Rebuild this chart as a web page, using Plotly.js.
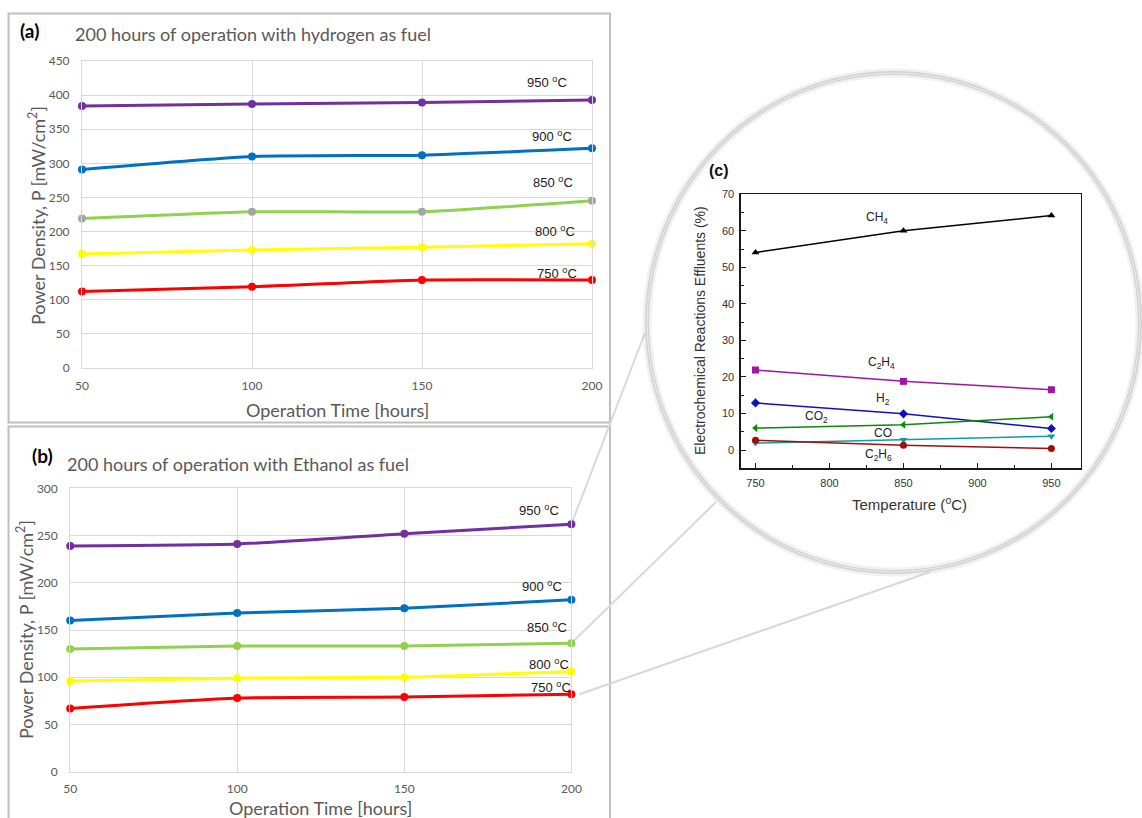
<!DOCTYPE html>
<html>
<head>
<meta charset="utf-8">
<script src="https://cdn.plot.ly/plotly-3.0.1.min.js"></script>
<style>
  html, body { margin: 0; padding: 0; background: #ffffff; }
  #fig { width: 1142px; height: 818px; }
</style>
</head>
<body>
<div id="fig"></div>
<script>
// ---- data -------------------------------------------------------------
const hours = [50, 100, 150, 200];
const tempNames = ['750', '800', '850', '900', '950'];

// (a) hydrogen fuel, power density [mW/cm2]
const h2_750 = [112, 119, 129, 129];
const h2_800 = [167, 173, 177, 182];
const h2_850 = [219, 229, 229, 245];
const h2_900 = [291, 310, 312, 322];
const h2_950 = [384, 387, 389, 393];

// (b) ethanol fuel, power density [mW/cm2]
const et_750 = [67, 78, 79, 82];
const et_800 = [96, 99, 100, 106];
const et_850 = [130, 133, 133, 136];
const et_900 = [160, 168, 173, 182];
const et_950 = [239, 241, 252, 262];

// (c) effluent composition vs temperature [%]
const temps = [750, 850, 950];
const gasNames = ['CH<sub>4</sub>', 'C<sub>2</sub>H<sub>4</sub>', 'H<sub>2</sub>', 'CO<sub>2</sub>', 'CO', 'C<sub>2</sub>H<sub>6</sub>'];
const ch4  = [54.1, 60.0, 64.2];
const c2h4 = [21.9, 18.8, 16.5];
const h2   = [12.9, 9.9, 5.9];
const co2  = [6.0, 6.9, 9.1];
const co   = [1.9, 2.8, 3.8];
const c2h6 = [2.7, 1.3, 0.4];

// ---- page geometry helpers (pixel -> paper) ---------------------------
const W = 1142, H = 818;
const px = v => v / W;
const py = v => 1 - v / H;

const EXCEL = 'Lato, "Open Sans", sans-serif';
const ARIAL = '"Liberation Sans", Arial, sans-serif';

const tempColors = ['#FF0000', '#FFFF00', '#92D050', '#0070C0', '#7030A0'];
const h2MarkerColors = ['#FF0000', '#FFFF00', '#A5A5A5', '#0070C0', '#7030A0'];

function runLine(y, i, xa, ya, markerColor) {
  return {
    x: hours, y: y, xaxis: xa, yaxis: ya, type: 'scatter', mode: 'lines+markers',
    name: tempNames[i] + ' °C',
    line: { color: tempColors[i], width: 3, shape: 'spline', smoothing: 0.5 },
    marker: { color: markerColor, size: 8 },
    cliponaxis: false, hoverinfo: 'x+y+name'
  };
}

const h2Series = [h2_750, h2_800, h2_850, h2_900, h2_950];
const etSeries = [et_750, et_800, et_850, et_900, et_950];

const traces = [];
h2Series.forEach((s, i) => traces.push(runLine(s, i, 'x', 'y', h2MarkerColors[i])));
etSeries.forEach((s, i) => traces.push(runLine(s, i, 'x2', 'y2', tempColors[i])));

const gasSeries = [ch4, c2h4, h2, co2, co, c2h6];
const gasColors = ['#000000', '#A0169F', '#1010C0', '#0A8A0A', '#139C9C', '#A00F0F'];
const gasSymbols = ['triangle-up', 'square', 'diamond', 'triangle-left', 'triangle-down', 'circle'];
gasSeries.forEach((s, i) => traces.push({
  x: temps, y: s, xaxis: 'x3', yaxis: 'y3', type: 'scatter', mode: 'lines+markers',
  name: gasNames[i],
  line: { color: gasColors[i], width: 1.5 },
  marker: { color: gasColors[i], symbol: gasSymbols[i], size: 7 },
  cliponaxis: false
}));

// ---- axes -------------------------------------------------------------
function excelAxis(extra) {
  return Object.assign({
    showgrid: true, gridcolor: '#D9D9D9', gridwidth: 1,
    showline: true, linecolor: '#D9D9D9', linewidth: 1, mirror: true,
    zeroline: false, ticks: '', fixedrange: true,
    tickfont: { family: EXCEL, size: 12, color: '#595959' }
  }, extra);
}

function originAxis(extra) {
  return Object.assign({
    showgrid: false, zeroline: false,
    showline: true, linecolor: '#1a1a1a', linewidth: 1.3, mirror: true,
    ticks: 'inside', ticklen: 5, tickwidth: 1, tickcolor: '#1a1a1a',
    tickfont: { family: ARIAL, size: 11, color: '#333333' },
    fixedrange: true
  }, extra);
}

// plot areas (pixels)
const A = { l: 82, r: 592, t: 61, b: 368 };
const B = { l: 70.2, r: 571.4, t: 488.3, b: 771.7 };
const C = { l: 740.7, r: 1081, t: 194.3, b: 468.3 };

const layout = {
  width: W, height: H,
  margin: { l: 0, r: 0, t: 0, b: 0 },
  paper_bgcolor: '#ffffff', plot_bgcolor: 'rgba(0,0,0,0)',
  showlegend: false,
  xaxis: excelAxis({ domain: [px(A.l), px(A.r)], anchor: 'y', range: [50, 200], tickvals: hours, ticklabelstandoff: 7 }),
  yaxis: excelAxis({ domain: [py(A.b), py(A.t)], anchor: 'x', range: [0, 450], dtick: 50, tick0: 0, ticklabelstandoff: 9 }),
  xaxis2: excelAxis({ domain: [px(B.l), px(B.r)], anchor: 'y2', range: [50, 200], tickvals: hours, ticklabelstandoff: 6 }),
  yaxis2: excelAxis({ domain: [py(B.b), py(B.t)], anchor: 'x2', range: [0, 300], dtick: 50, tick0: 0, ticklabelstandoff: 9 }),
  xaxis3: originAxis({ domain: [px(C.l), px(C.r)], anchor: 'y3', range: [740, 970], dtick: 50, tick0: 750,
    minor: { ticks: 'inside', ticklen: 3, dtick: 25, tickcolor: '#1a1a1a' }, ticklabelstandoff: 4 }),
  yaxis3: originAxis({ domain: [py(C.b), py(C.t)], anchor: 'x3', range: [-5, 70], dtick: 10, tick0: 0,
    minor: { ticks: 'inside', ticklen: 3, dtick: 5, tickcolor: '#1a1a1a' }, ticklabelstandoff: 3 }),
  shapes: [],
  annotations: []
};

// ---- frames, magnifier ring and connector lines ------------------------
const frameLine = { color: '#BFBFBF', width: 2 };
layout.shapes.push({ type: 'rect', xref: 'paper', yref: 'paper', x0: px(8.5), x1: px(610), y0: py(422.5), y1: py(13.5), line: frameLine, layer: 'below' });
layout.shapes.push({ type: 'rect', xref: 'paper', yref: 'paper', x0: px(8.5), x1: px(610), y0: py(840), y1: py(426.5), line: frameLine, layer: 'below' });

// end point of an ethanol curve (b) in paper coordinates
function etEnd(series) {
  const xv = hours[hours.length - 1], yv = series[series.length - 1];
  const xp = B.l + (xv - 50) / 150 * (B.r - B.l);
  const yp = B.b - yv / 300 * (B.b - B.t);
  return [px(xp), py(yp)];
}
const connector = { color: '#D9D9D9', width: 2 };
[[et_950, 645, 333], [et_850, 716, 502], [et_750, 930, 572]].forEach(([s, ex, ey], k) => {
  const [x0, y0] = etEnd(s);
  const off = k === 2 ? px(8) : 0;
  layout.shapes.push({ type: 'line', xref: 'paper', yref: 'paper', x0: x0 + off, y0: y0, x1: px(ex), y1: py(ey), line: connector, layer: 'below' });
});

const ring = { x0: px(647), x1: px(1140), y0: py(572), y1: py(73) };
layout.shapes.push(Object.assign({ type: 'circle', xref: 'paper', yref: 'paper', line: { color: 'rgba(200,200,200,0.25)', width: 9 } }, ring));
layout.shapes.push(Object.assign({ type: 'circle', xref: 'paper', yref: 'paper', line: { color: '#D3D3D3', width: 4 } }, ring));
layout.shapes.push(Object.assign({ type: 'circle', xref: 'paper', yref: 'paper', line: { color: '#ECECEC', width: 1 } }, ring));

// ---- text ---------------------------------------------------------------
function paperText(text, x, y, font, extra) {
  return Object.assign({ xref: 'paper', yref: 'paper', x: px(x), y: py(y), text: text, showarrow: false,
    xanchor: 'center', yanchor: 'middle', font: font }, extra || {});
}
const titleFont = { family: EXCEL, size: 18, color: '#595959' };
const axisFont = { family: EXCEL, size: 18, color: '#595959' };
const tagFont = { family: EXCEL, size: 19, color: '#000000', weight: 'bold' };

layout.annotations.push(paperText('<b>(a)</b>', 29, 30, tagFont));
layout.annotations.push(paperText('200 hours of operation with hydrogen as fuel', 73, 34, titleFont, { xanchor: 'left' }));
layout.annotations.push(paperText('Operation Time [hours]', 337, 410, axisFont));
layout.annotations.push(paperText('Power Density, P [mW/cm<sup>2</sup>]', 37, 216, axisFont, { textangle: -90 }));

layout.annotations.push(paperText('<b>(b)</b>', 42, 455, tagFont));
layout.annotations.push(paperText('200 hours of operation with Ethanol as fuel', 65, 464, titleFont, { xanchor: 'left' }));
layout.annotations.push(paperText('Operation Time [hours]', 320, 808, axisFont));
layout.annotations.push(paperText('Power Density, P [mW/cm<sup>2</sup>]', 25, 630, axisFont, { textangle: -90 }));

layout.annotations.push(paperText('<b>(c)</b>', 719, 170, { family: ARIAL, size: 16, color: '#111111' }));
layout.annotations.push(paperText('Temperature (<sup>o</sup>C)', 909, 503, { family: ARIAL, size: 15, color: '#333333' }));
layout.annotations.push(paperText('Electrochemical Reactions Effluents (%)', 700, 331, { family: ARIAL, size: 14, color: '#333333' }, { textangle: -90 }));

// temperature tags at the right end of each curve
const tagShiftA = [[-35, 7], [-37, 13], [-39, 19], [-40, 12], [-45, 18]];
const tagShiftB = [[-20, 7], [-22, 8], [-24, 16], [-29, 14], [-32, 14]];
const labelFont = { family: ARIAL, size: 13, color: '#1a1a1a' };
h2Series.forEach((s, i) => layout.annotations.push({
  xref: 'x', yref: 'y', x: hours[3], y: s[3], xshift: tagShiftA[i][0], yshift: tagShiftA[i][1],
  text: tempNames[i] + ' <sup>o</sup>C', showarrow: false, font: labelFont
}));
etSeries.forEach((s, i) => layout.annotations.push({
  xref: 'x2', yref: 'y2', x: hours[3], y: s[3], xshift: tagShiftB[i][0], yshift: tagShiftB[i][1],
  text: tempNames[i] + ' <sup>o</sup>C', showarrow: false, font: labelFont
}));

// species names in (c)
const gasTagPos = [[832, 63.4], [835, 23.8], [836, 14.0], [791, 9.0], [836, 4.8], [833, -1.3]];
gasNames.forEach((g, i) => layout.annotations.push({
  xref: 'x3', yref: 'y3', x: gasTagPos[i][0], y: gasTagPos[i][1], text: g, showarrow: false,
  font: { family: ARIAL, size: 12, color: '#222222' }
}));

Plotly.newPlot('fig', traces, layout, { staticPlot: true, displayModeBar: false });
</script>
</body>
</html>
